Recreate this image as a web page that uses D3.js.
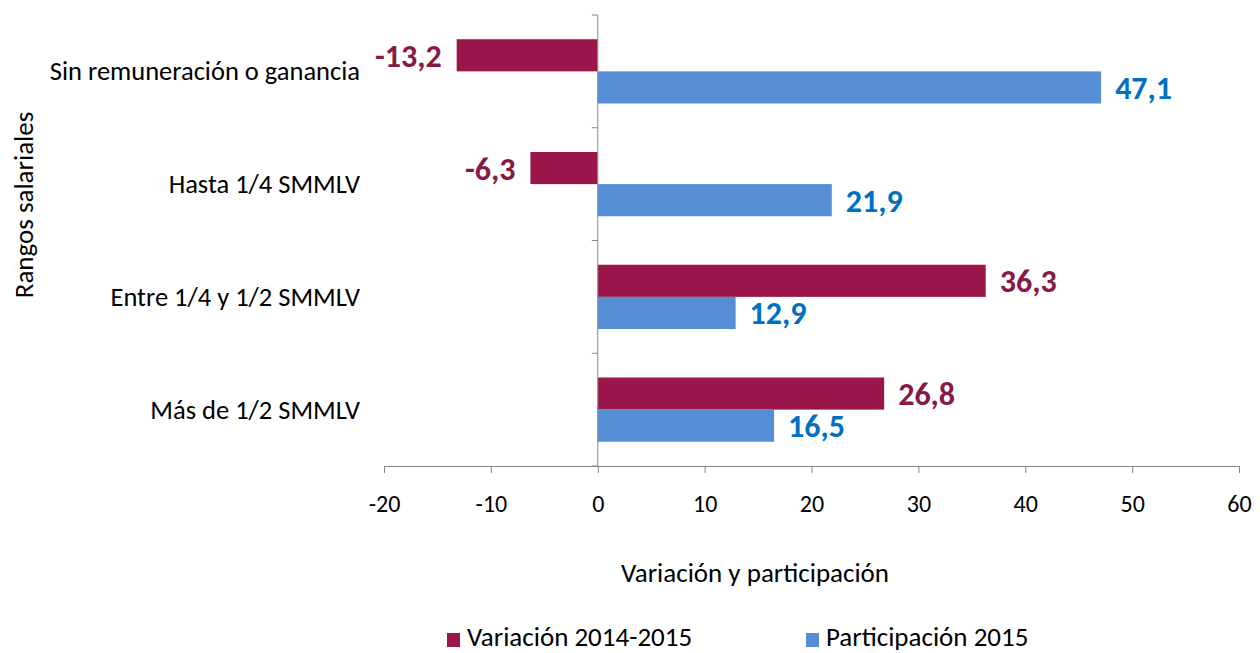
<!DOCTYPE html>
<html>
<head>
<meta charset="utf-8">
<script src="https://cdn.jsdelivr.net/npm/d3@7"></script>
<style>
  body { margin: 0; background: #fff; }
  text { font-family: Carlito, Lato, "Open Sans", sans-serif; }
</style>
</head>
<body>
<div id="chart"></div>
<script>
var categorias = ["Sin remuneración o ganancia", "Hasta 1/4 SMMLV", "Entre 1/4 y 1/2 SMMLV", "Más de 1/2 SMMLV"];
var variacion = [-13.2, -6.3, 36.3, 26.8];
var participacion = [47.1, 21.9, 12.9, 16.5];
var series = ["Variación 2014-2015", "Participación 2015"];
var xTicks = [-20, -10, 0, 10, 20, 30, 40, 50, 60];

var W = 1260, H = 653;
var m = {top: 15, right: 21, bottom: 187, left: 384};
var w = W - m.left - m.right, h = H - m.top - m.bottom;

var colores = ["#9B174B", "#558ED5"];
var coloresTexto = ["#851A45", "#0070C0"];

var svg = d3.select("#chart").append("svg")
    .attr("width", W)
    .attr("height", H);

var g = svg.append("g")
    .attr("transform", "translate(" + m.left + "," + m.top + ")");

// scales
var x = d3.scaleLinear().domain([-20, 60]).range([0, w]);
var y0 = d3.scaleBand().domain(categorias).range([0, h]).paddingInner(0.43).paddingOuter(0.215);
var y1 = d3.scaleBand().domain(series).range([0, y0.bandwidth()]);

var data = categorias.map(function(c, i) {
    return {cat: c, vals: [variacion[i], participacion[i]]};
});

// coma decimal y guion normal
var fmt = function(v) { return v.toFixed(1).replace(".", ","); };

// bars
var grupo = g.selectAll(".grupo")
    .data(data)
    .enter().append("g")
    .attr("class", "grupo")
    .attr("transform", function(d) { return "translate(0," + y0(d.cat) + ")"; });

grupo.selectAll("rect")
    .data(function(d) { return d.vals.map(function(v, j) { return {s: series[j], v: v, j: j}; }); })
    .enter().append("rect")
    .attr("x", function(d) { return x(Math.min(0, d.v)); })
    .attr("y", function(d) { return y1(d.s); })
    .attr("width", function(d) { return Math.abs(x(d.v) - x(0)); })
    .attr("height", y1.bandwidth())
    .attr("fill", function(d) { return colores[d.j]; });

grupo.selectAll("text")
    .data(function(d) { return d.vals.map(function(v, j) { return {s: series[j], v: v, j: j}; }); })
    .enter().append("text")
    .attr("x", function(d) { return d.v < 0 ? x(d.v) - 15 : x(d.v) + 14; })
    .attr("y", function(d) { return y1(d.s) + y1.bandwidth() / 2; })
    .attr("dy", "0.36em")
    .attr("text-anchor", function(d) { return d.v < 0 ? "end" : "start"; })
    .style("font-size", "32px")
    .style("font-weight", "bold")
    .attr("fill", function(d) { return coloresTexto[d.j]; })
    .text(function(d) { return fmt(d.v); });

// x axis
var xAxis = d3.axisBottom(x).tickValues(xTicks).tickSize(7).tickPadding(22)
    .tickFormat(function(d) { return String(d); });
var gx = g.append("g")
    .attr("transform", "translate(0," + h + ")")
    .call(xAxis);
gx.select(".domain").attr("stroke", "#888").attr("d", "M0.5,7V0.5H" + (w + 0.5) + "V7");
gx.selectAll(".tick line").attr("stroke", "#888");
gx.selectAll(".tick text")
    .style("font-size", "24px")
    .attr("fill", "#000");

// y axis at zero
var yAxisG = g.append("g").attr("transform", "translate(" + x(0) + ",0)");
yAxisG.append("line")
    .attr("y1", 0).attr("y2", h)
    .attr("stroke", "#888");
var bordes = d3.range(categorias.length + 1).map(function(i) {
    return i === categorias.length ? h : y0(categorias[i]) - y0.step() * y0.paddingInner() / 2;
});
yAxisG.selectAll(".ytick")
    .data(bordes)
    .enter().append("line")
    .attr("x1", -6).attr("x2", 0)
    .attr("y1", function(d) { return d; })
    .attr("y2", function(d) { return d; })
    .attr("stroke", "#888");

// category labels
g.selectAll(".cat")
    .data(categorias)
    .enter().append("text")
    .attr("x", -24)
    .attr("y", function(d) { return y0(d) + y0.bandwidth() / 2; })
    .attr("dy", "0.34em")
    .attr("text-anchor", "end")
    .style("font-size", "26.5px")
    .text(function(d) { return d; });

// axis titles
svg.append("text")
    .attr("transform", "translate(33," + (m.top + 190) + ") rotate(-90)")
    .attr("text-anchor", "middle")
    .style("font-size", "27px")
    .text("Rangos salariales");

svg.append("text")
    .attr("x", 755)
    .attr("y", 582)
    .attr("text-anchor", "middle")
    .style("font-size", "27px")
    .text("Variación y participación");

// legend
var leyenda = svg.append("g").attr("transform", "translate(447,633)");
var lx = [0, 359];
series.forEach(function(s, i) {
    leyenda.append("rect")
        .attr("x", lx[i]).attr("y", 0)
        .attr("width", 13).attr("height", 14)
        .attr("fill", colores[i]);
    leyenda.append("text")
        .attr("x", lx[i] + 20).attr("y", 13)
        .style("font-size", "27px")
        .text(s);
});
</script>
</body>
</html>
